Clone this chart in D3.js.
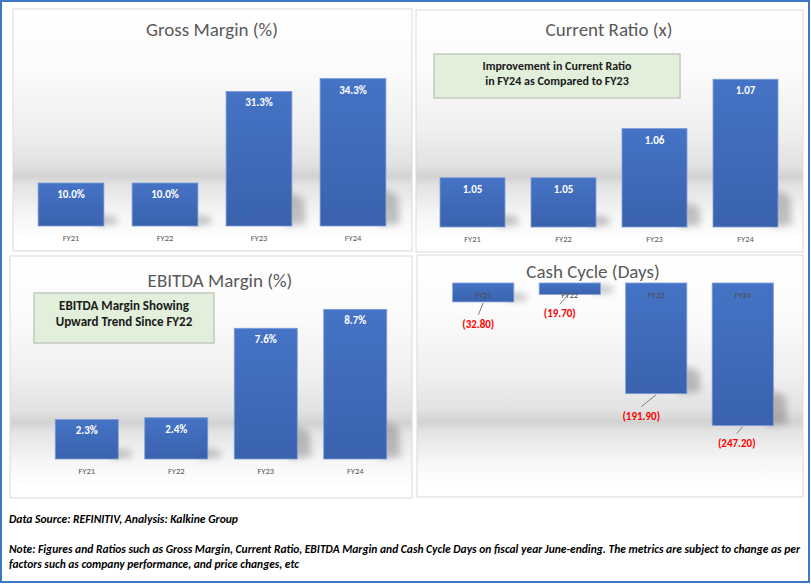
<!DOCTYPE html>
<html>
<head>
<meta charset="utf-8">
<script src="https://cdn.jsdelivr.net/npm/d3@7"></script>
<style>
  body { margin: 0; background: #fff; }
  svg text { font-family: Carlito, "Liberation Sans Narrow", "Open Sans", sans-serif; }
</style>
</head>
<body>
<div id="chart"></div>
<script>
const W = 811, H = 584;

// data
const years = ["FY21", "FY22", "FY23", "FY24"];
const grossMargin = [10.0, 10.0, 31.3, 34.3];
const currentRatio = [1.05, 1.05, 1.06, 1.07];
const ebitdaMargin = [2.3, 2.4, 7.6, 8.7];
const cashCycle = [-32.8, -19.7, -191.9, -247.2];

const noteSource = "Data Source: REFINITIV, Analysis: Kalkine Group";
const noteLines = [
  "Note: Figures and Ratios such as Gross Margin, Current Ratio, EBITDA Margin and Cash Cycle Days on fiscal year June-ending. The metrics are subject to change as per",
  "factors such as company performance, and price changes, etc"
];

const svg = d3.select("#chart").append("svg")
  .attr("width", W).attr("height", H);

const defs = svg.append("defs");

// panel background: white with a grey "floor" band
const bg = defs.append("linearGradient").attr("id", "panelBg")
  .attr("x1", 0).attr("y1", 0).attr("x2", 0).attr("y2", 1);
[[0, "#ffffff"], [0.25, "#fbfbfb"], [0.5, "#efefef"], [0.64, "#e2e2e2"], [0.69, "#d2d2d2"],
 [0.73, "#e4e4e4"], [0.85, "#f6f6f6"], [0.95, "#ffffff"], [1, "#ffffff"]]
  .forEach(s => bg.append("stop").attr("offset", s[0]).attr("stop-color", s[1]));

const barGrad = defs.append("linearGradient").attr("id", "barFill")
  .attr("x1", 0).attr("y1", 0).attr("x2", 0).attr("y2", 1);
barGrad.append("stop").attr("offset", 0).attr("stop-color", "#4573c5");
barGrad.append("stop").attr("offset", 1).attr("stop-color", "#3a62ad");

defs.append("filter").attr("id", "blur")
  .attr("x", "-50%").attr("y", "-50%").attr("width", "200%").attr("height", "200%")
  .append("feGaussianBlur").attr("stdDeviation", 3.5);

// outer frame
svg.append("rect")
  .attr("x", 1).attr("y", 1).attr("width", W - 3).attr("height", H - 3)
  .attr("fill", "#fff").attr("stroke", "#3d78c4").attr("stroke-width", 2);

function panel(cfg) {
  const g = svg.append("g");
  g.append("rect")
    .attr("x", cfg.box[0]).attr("y", cfg.box[1])
    .attr("width", cfg.box[2] - cfg.box[0]).attr("height", cfg.box[3] - cfg.box[1])
    .attr("fill", "url(#panelBg)").attr("stroke", "#d9d9d9").attr("stroke-width", 1);

  const x = d3.scaleBand().domain(years).range(cfg.xr)
    .paddingInner(cfg.pad).paddingOuter(cfg.pad / 2);
  const y = d3.scaleLinear().domain(cfg.yd).range(cfg.yr);
  const base = cfg.neg ? y(0) : y(cfg.yd[0]);

  const rows = years.map((c, i) => ({c, v: cfg.values[i]}));

  // soft shadows
  g.selectAll(".shadow").data(rows).join("path")
    .attr("d", d => {
      const x1 = x(d.c) + x.bandwidth();
      const top = cfg.neg ? y(0) : y(d.v);
      const bot = cfg.neg ? y(d.v) : base;
      const s = Math.max(10, (bot - top) * 0.26);
      return `M${x1 - 8},${bot - s}L${x1 + 12},${bot - s * 0.8}L${x1 + 14},${bot - 2}L${x1 - 8},${bot}Z`;
    })
    .attr("fill", "#000").attr("opacity", 0.22).attr("filter", "url(#blur)");

  g.selectAll(".bar").data(rows).join("rect")
    .attr("x", d => x(d.c))
    .attr("y", d => cfg.neg ? y(0) : y(d.v))
    .attr("width", x.bandwidth())
    .attr("height", d => cfg.neg ? y(d.v) - y(0) : base - y(d.v))
    .attr("fill", "url(#barFill)").attr("stroke", "#7d9dd8").attr("stroke-width", 0.8);

  // category labels
  g.selectAll(".cat").data(rows).join("text")
    .attr("x", d => x(d.c) + x.bandwidth() / 2)
    .attr("y", cfg.neg ? y(0) + 15 : base + 15)
    .attr("text-anchor", "middle").attr("font-size", 8.5)
    .attr("fill", cfg.neg ? "#4d4d4d" : "#595959").text(d => d.c);

  if (!cfg.neg) {
    g.selectAll(".val").data(rows).join("text")
      .attr("x", d => x(d.c) + x.bandwidth() / 2)
      .attr("y", d => y(d.v) + 15)
      .attr("text-anchor", "middle").attr("font-size", 11).attr("font-weight", 700)
      .attr("fill", "#fff").text(d => cfg.fmt(d.v));
  } else {
    // red labels dragged below each bar, with leader lines
    rows.forEach((d, i) => {
      const cx = x(d.c) + x.bandwidth() / 2;
      const by = y(d.v);
      const off = cfg.labelOff[i];
      g.append("line")
        .attr("x1", cx + off[2]).attr("y1", by + 1)
        .attr("x2", cx + off[0]).attr("y2", by + off[1] - 9)
        .attr("stroke", "#7f7f7f").attr("stroke-width", 1);
      g.append("text")
        .attr("x", cx + off[0]).attr("y", by + off[1] + 4)
        .attr("text-anchor", "middle").attr("font-size", 11).attr("font-weight", 700)
        .attr("fill", "#ff0000").text(cfg.fmt(d.v));
    });
  }

  g.append("text")
    .attr("x", cfg.title[1]).attr("y", cfg.title[2])
    .attr("text-anchor", "middle").attr("font-size", 19)
    .attr("fill", "#595959").text(cfg.title[0]);

  if (cfg.note) {
    const n = cfg.note;
    g.append("rect")
      .attr("x", n.box[0]).attr("y", n.box[1]).attr("width", n.box[2]).attr("height", n.box[3])
      .attr("fill", "#e2efda").attr("stroke", "#c4c9c0").attr("stroke-width", 1.5);
    n.lines.forEach((t, i) => {
      g.append("text")
        .attr("x", n.box[0] + n.box[2] / 2).attr("y", n.y0 + i * n.lh)
        .attr("text-anchor", "middle").attr("font-size", n.fs).attr("font-weight", 700)
        .attr("fill", "#1a1a1a").text(t);
    });
  }
}

panel({
  box: [13, 9, 412, 251], values: grossMargin, xr: [24, 400], pad: 0.3,
  yd: [0, 40], yr: [226, 54], fmt: v => v.toFixed(1) + "%",
  title: ["Gross Margin (%)", 212, 36]
});

panel({
  box: [416, 10, 803, 252], values: currentRatio, xr: [427, 791], pad: 0.286,
  yd: [1.04, 1.08], yr: [227, 30], fmt: v => v.toFixed(2),
  title: ["Current Ratio (x)", 609, 36],
  note: {box: [434, 54, 246, 44], lines: ["Improvement in Current Ratio", "in FY24 as Compared to FY23"], y0: 70, lh: 15, fs: 12}
});

panel({
  box: [10, 256, 412, 498], values: ebitdaMargin, xr: [42, 400], pad: 0.296,
  yd: [0, 10], yr: [459, 287], fmt: v => v.toFixed(1) + "%",
  title: ["EBITDA Margin (%)", 220, 287],
  note: {box: [34, 293, 180, 50], lines: ["EBITDA Margin Showing", "Upward Trend Since FY22"], y0: 310, lh: 16, fs: 13}
});

panel({
  box: [417, 255, 803, 497], values: cashCycle, xr: [440, 786], pad: 0.293,
  yd: [-300, 0], yr: [456, 283], neg: true, fmt: v => "(" + Math.abs(v).toFixed(2) + ")",
  title: ["Cash Cycle (Days)", 593, 278],
  labelOff: [[-5, 22, 0], [-10, 19, -2], [-15, 22, 0], [-6, 17, 0]]
});

// footnotes
svg.append("text")
  .attr("x", 9).attr("y", 523)
  .attr("font-size", 11).attr("font-weight", 700).attr("font-style", "italic")
  .attr("fill", "#000")
  .attr("textLength", 229).attr("lengthAdjust", "spacingAndGlyphs")
  .text(noteSource);

noteLines.forEach((t, i) => {
  svg.append("text")
    .attr("x", 9).attr("y", 553 + i * 15)
    .attr("font-size", 11).attr("font-weight", 700).attr("font-style", "italic")
    .attr("fill", "#000")
    .attr("textLength", i === 0 ? 791 : 290)
    .attr("lengthAdjust", "spacingAndGlyphs")
    .text(t);
});
</script>
</body>
</html>
